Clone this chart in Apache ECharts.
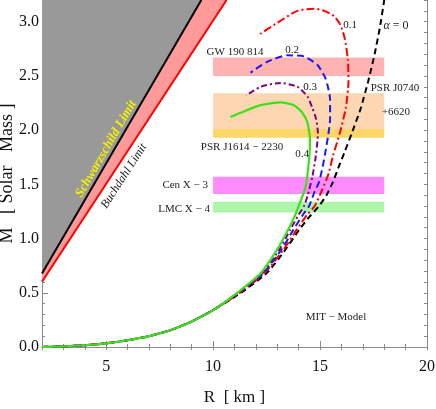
<!DOCTYPE html>
<html lang="en">
<head>
    <meta charset="UTF-8">
    <title>MIT model M-R</title>
    <script src="https://cdn.jsdelivr.net/npm/echarts@6.0.0/dist/echarts.min.js"></script>
    <style>
        body { margin: 0; background: #fff; }
        #chart { width: 436px; height: 409px; }
    </style>
</head>
<body>
<div id="chart"></div>
<script type="text/javascript">
    // common low-mass branch (all alpha curves overlap here)
    var lowR = [2, 3, 4, 5, 6, 7, 8, 9, 10];
    var lowM = [0, 0.006, 0.016, 0.034, 0.062, 0.1, 0.155, 0.235, 0.34];

    // alpha = 0
    var r0 = [11.3, 12.5, 13.39, 14.02, 14.5, 14.95, 15.3, 15.6, 15.85, 16.15, 16.48, 16.9, 17.25, 17.55, 17.8, 18.0, 18.15];
    var m0 = [0.5, 0.68, 0.9, 1.08, 1.2, 1.3, 1.4, 1.52, 1.65, 1.8, 1.97, 2.2, 2.45, 2.7, 2.95, 3.2, 3.4];
    // alpha = 0.1
    var r1 = [11.25, 12.4, 13.3, 13.9, 14.4, 14.75, 15.1, 15.4, 15.6, 15.92, 16.2, 16.33, 16.3, 16.15, 15.95, 15.66, 15.2, 14.72, 13.94, 13.0, 12.07];
    var m1 = [0.5, 0.68, 0.9, 1.08, 1.22, 1.3, 1.45, 1.6, 1.76, 1.97, 2.2, 2.45, 2.65, 2.85, 2.97, 3.05, 3.1, 3.12, 3.10, 2.99, 2.87];
    // alpha = 0.2
    var r2 = [11.2, 12.35, 13.2, 13.75, 14.2, 14.49, 14.72, 14.95, 15.12, 15.25, 15.38, 15.47, 15.47, 15.27, 14.88, 14.25, 13.47, 12.53, 11.75];
    var m2 = [0.5, 0.68, 0.9, 1.08, 1.22, 1.3, 1.42, 1.52, 1.66, 1.8, 1.95, 2.1, 2.28, 2.47, 2.6, 2.68, 2.69, 2.63, 2.53];
    // alpha = 0.3
    var r3 = [11.15, 12.3, 13.1, 13.6, 14.0, 14.25, 14.41, 14.64, 14.8, 14.9, 14.82, 14.65, 14.41, 13.94, 13.16, 12.22, 11.55];
    var m3 = [0.5, 0.68, 0.9, 1.08, 1.22, 1.3, 1.39, 1.57, 1.76, 1.97, 2.1, 2.2, 2.31, 2.40, 2.435, 2.40, 2.32];
    // alpha = 0.4
    var r4 = [11.13, 12.22, 13.0, 13.5, 13.8, 14.0, 14.33, 14.5, 14.53, 14.41, 14.17, 13.78, 13.16, 12.22, 11.28, 10.81];
    var m4 = [0.5, 0.68, 0.9, 1.08, 1.2, 1.3, 1.48, 1.76, 1.91, 2.07, 2.16, 2.23, 2.256, 2.23, 2.16, 2.12];

    // limits
    var schwR = [2, 9.45];
    var schwM = [0.677, 3.2];
    var buchR = [2, 10.63];
    var buchM = [0.602, 3.2];

    // observational bands
    var bandNames = ['GW 190814', 'PSR J0740+6620', 'PSR J1614-2230', 'Cen X-3', 'LMC X-4'];
    var bandLow = [2.50, 2.01, 1.93, 1.41, 1.24];
    var bandHigh = [2.67, 2.34, 2.01, 1.57, 1.34];
    var bandR = [10, 18];
    var bandColors = ['#ffb3b3', '#fdd7b2', '#fdd66a', '#ff8cff', '#adf5a8'];

    var xLabels = [5, 10, 15, 20];
    var yLabels = [0, 0.5, 1, 1.5, 2, 2.5, 3];

    var serif = 'Liberation Serif';
    var frame = '#8a8a8a';

    function pairs(rs, ms) {
        var out = [];
        for (var i = 0; i < rs.length; i++) out.push([rs[i], ms[i]]);
        return out;
    }
    function curve(rs, ms) {
        return pairs(lowR, lowM).concat(pairs(rs, ms));
    }

    var schw = pairs(schwR, schwM);
    var buch = pairs(buchR, buchM);
    var grayPoly = schw.concat([[schwR[0], schwM[1]]]);
    var pinkPoly = schw.concat(buch.slice().reverse());

    function polySeries(pts, color, z) {
        return {
            type: 'custom', silent: true, z: z, clip: true,
            data: pts,
            renderItem: function (params, api) {
                if (params.dataIndex > 0) return null;
                return {
                    type: 'polygon',
                    shape: { points: pts.map(function (p) { return api.coord(p); }) },
                    style: { fill: color }
                };
            }
        };
    }

    var bandData = [];
    for (var i = 0; i < bandNames.length; i++) {
        bandData.push({ name: bandNames[i], value: [bandR[0], bandR[1], bandLow[i], bandHigh[i]] });
    }

    function lineSeries(name, data, color, dash, width) {
        return {
            name: name, type: 'line', data: data, smooth: 0.2, symbol: 'none', z: 5,
            lineStyle: { color: color, width: width || 2, type: dash }
        };
    }

    function note(x, y, text, align) {
        return {
            type: 'text', x: x, y: y, z: 10,
            style: { text: text, font: '11px "Liberation Serif"', fill: '#222', align: align || 'center', verticalAlign: 'middle' }
        };
    }

    var myChart = echarts.init(document.getElementById('chart'));
    var option = {
        animation: false,
        backgroundColor: '#fff',
        grid: { left: 42, right: 9, top: 0, bottom: 62, outerBoundsMode: 'none', containLabel: false },
        xAxis: [{
            type: 'value', position: 'bottom', min: 2, max: 20, interval: 1,
            axisLine: { lineStyle: { color: frame } },
            axisTick: { inside: true, length: 3, lineStyle: { color: frame } },
            axisLabel: { customValues: xLabels, fontFamily: serif, fontSize: 16, color: '#111', margin: 12 },
            splitLine: { show: false },
            name: 'R  [ km ]', nameLocation: 'middle', nameGap: 42, nameMoveOverlap: false,
            nameTextStyle: { fontFamily: serif, fontSize: 17, color: '#111' }
        }, {
            type: 'value', position: 'bottom', min: 2, max: 20,
            axisLine: { show: false },
            axisTick: { inside: true, length: 6, customValues: xLabels, lineStyle: { color: frame } },
            axisLabel: { show: false }, splitLine: { show: false }
        }, {
            type: 'value', position: 'top', min: 2, max: 20, interval: 1,
            axisLine: { lineStyle: { color: frame } },
            axisTick: { inside: true, length: 3, lineStyle: { color: frame } },
            axisLabel: { show: false }, splitLine: { show: false }
        }],
        yAxis: [{
            type: 'value', position: 'left', min: 0, max: 3.2, interval: 0.1,
            axisLine: { lineStyle: { color: frame } },
            axisTick: { inside: true, length: 3, lineStyle: { color: frame } },
            axisLabel: {
                customValues: yLabels, fontFamily: serif, fontSize: 16, color: '#111', margin: 3,
                formatter: function (v) { return v.toFixed(1); }
            },
            splitLine: { show: false },
            name: 'M   [ Solar   Mass ]', nameLocation: 'middle', nameGap: 26, nameMoveOverlap: false,
            nameTextStyle: { fontFamily: serif, fontSize: 18, color: '#111' }
        }, {
            type: 'value', position: 'left', min: 0, max: 3.2,
            axisLine: { show: false },
            axisTick: { inside: true, length: 6, customValues: yLabels, lineStyle: { color: frame } },
            axisLabel: { show: false }, splitLine: { show: false }
        }, {
            type: 'value', position: 'right', min: 0, max: 3.2, interval: 0.1,
            axisLine: { lineStyle: { color: frame } },
            axisTick: { inside: true, length: 3, lineStyle: { color: frame } },
            axisLabel: { show: false }, splitLine: { show: false }
        }],
        series: [
            polySeries(grayPoly, '#999999', 1),
            polySeries(pinkPoly, '#ff9a9a', 1),
            {
                name: 'limits-schw', type: 'line', data: schw, symbol: 'none', z: 3,
                lineStyle: { color: '#000', width: 2 }
            },
            {
                name: 'limits-buch', type: 'line', data: buch, symbol: 'none', z: 3,
                lineStyle: { color: '#ff0000', width: 2 }
            },
            {
                name: 'bands', type: 'custom', silent: true, z: 2,
                data: bandData,
                encode: { x: [0, 1], y: [2, 3] },
                renderItem: function (params, api) {
                    var p0 = api.coord([api.value(0), api.value(3)]);
                    var p1 = api.coord([api.value(1), api.value(2)]);
                    return {
                        type: 'rect',
                        shape: { x: p0[0], y: p0[1], width: p1[0] - p0[0], height: p1[1] - p0[1] },
                        style: { fill: bandColors[params.dataIndex] }
                    };
                }
            },
            lineSeries('α = 0', curve(r0, m0), '#000', [6, 4]),
            lineSeries('0.1', curve(r1, m1), '#ff0000', [8, 3, 2, 3]),
            lineSeries('0.2', curve(r2, m2), '#1a1aee', [7, 4]),
            lineSeries('0.3', curve(r3, m3), '#800080', [6, 3, 2, 3]),
            lineSeries('0.4', curve(r4, m4), '#3ee01a', 'solid', 2.2)
        ],
        graphic: [
            { type: 'text', x: 106, y: 149, rotation: Math.PI / 3, z: 10,
              style: { text: 'Schwarzschild Limit', font: 'italic bold 13px "Liberation Serif"', fill: '#f2f200', align: 'center', verticalAlign: 'middle' } },
            { type: 'text', x: 124, y: 176, rotation: 57 * Math.PI / 180, z: 10,
              style: { text: 'Buchdahl Limit', font: 'italic 12px "Liberation Serif"', fill: '#222', align: 'center', verticalAlign: 'middle' } },
            note(350, 25, '0.1'),
            { type: 'text', x: 396, y: 26, z: 10,
              style: { text: '{i|\u03b1} = 0', font: '12px "Liberation Serif"', fill: '#222', align: 'center', verticalAlign: 'middle',
                       rich: { i: { font: 'italic 12px "Liberation Serif"', fill: '#222' } } } },
            note(292, 50, '0.2'),
            note(310, 87, '0.3'),
            note(302, 154, '0.4'),
            note(235, 52, 'GW 190 814'),
            note(395, 88, 'PSR J0740'),
            note(396, 112, '+6620'),
            note(242, 147, 'PSR J1614 \u2212 2230'),
            note(208, 185, 'Cen X \u2212 3', 'right'),
            note(210, 209, 'LMC X \u2212 4', 'right'),
            note(336, 317, 'MIT \u2212 Model')
        ]
    };
    myChart.setOption(option);
</script>
</body>
</html>
